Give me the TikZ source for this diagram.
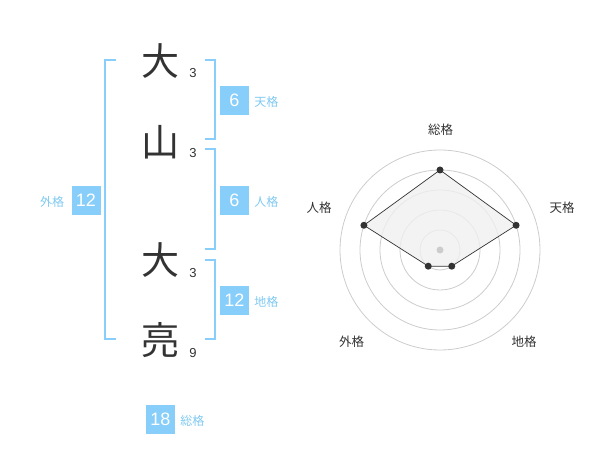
\documentclass[tikz,border=0pt]{standalone}
\usepackage{fontspec}
\setmainfont{Liberation Sans}
\newfontfamily\cjk{Noto Sans CJK JP}
\usetikzlibrary{positioning,calc}
\definecolor{kblue}{HTML}{87CEFA}
\definecolor{klight}{HTML}{7FC9F2}
\definecolor{kgray}{HTML}{333333}
\definecolor{ringgray}{HTML}{CCCCCC}
\definecolor{areagray}{HTML}{F0F0F0}
\tikzset{kanji/.style={inner sep=0pt,text=kgray,font=\cjk\fontsize{38}{38}\selectfont},
	 strokes/.style={inner sep=0pt,text=kgray,font=\fontsize{13}{13}\selectfont},
	 kakubox/.style={fill=kblue,text=white,inner sep=0pt,minimum size=29pt,font=\fontsize{18}{18}\selectfont},
	 kakulabel/.style={inner sep=0pt,text=klight,font=\cjk\fontsize{12}{12}\selectfont},
	 bracket/.style={draw=kblue,line width=2pt},
	 ring/.style={draw=ringgray,line width=0.8pt},
	 axislabel/.style={inner sep=0pt,text=kgray,font=\cjk\fontsize{12.5}{12.5}\selectfont},
	 vroot/.style={circle,fill=kgray,inner sep=0pt,minimum size=7pt},
	 node distance = 5pt
	 }
\begin{document}
\begin{tikzpicture}[x=1pt,y=1pt]% name chart
        \useasboundingbox (0,0) rectangle (600,-470);
        \node[kanji] (k1) at (160,-61) {大};
        \node[kanji] (k2) at (160,-142) {山};
        \node[kanji] (k3) at (160,-260) {大};
        \node[kanji] (k4) at (160,-340) {亮};
        \node[strokes] (s1) at (193,-73) {3};
        \node[strokes] (s2) at (193,-153) {3};
        \node[strokes] (s3) at (193,-273) {3};
        \node[strokes] (s4) at (193,-353) {9};
        \draw[bracket] (115.5,-60) -- (105,-60) -- (105,-339.5) -- (115.5,-339.5);
        \draw[bracket] (205,-60) -- (214.5,-60) -- (214.5,-139.5) -- (205,-139.5);
        \draw[bracket] (205,-149.5) -- (214.5,-149.5) -- (214.5,-249.5) -- (205,-249.5);
        \draw[bracket] (205,-260) -- (214.5,-260) -- (214.5,-339.5) -- (205,-339.5);
        \node[kakubox] (ten) at (234.5,-100.5) {6};
        \node[kakubox] (jin) at (234.5,-200.5) {6};
        \node[kakubox] (chi) at (234.5,-300.5) {12};
        \node[kakubox] (gai) at (86,-200.5) {12};
        \node[kakubox] (sou) at (160.5,-419) {18};
        \node[kakulabel] (lten) [base right=of ten] {天格};
        \node[kakulabel] (ljin) [base right=of jin] {人格};
        \node[kakulabel] (lchi) [base right=of chi] {地格};
        \node[kakulabel] (lgai) [base left=7pt of gai] {外格};
        \node[kakulabel] (lsou) [base right=of sou] {総格};
        % radar
        \coordinate (c) at (440,-250);
        \foreach \r in {20,40,60,80,100} \draw[ring] (c) circle (\r pt);
        \coordinate (vsou) at ($(c)+(90:80)$);
        \coordinate (vten) at ($(c)+(18:80)$);
        \coordinate (vchi) at ($(c)+(-54:20)$);
        \coordinate (vgai) at ($(c)+(234:20)$);
        \coordinate (vjin) at ($(c)+(162:80)$);
        \draw[kgray,fill=areagray,fill opacity=0.8,line width=0.7pt] (vsou) -- (vten) -- (vchi) -- (vgai) -- (vjin) -- cycle;
        \node[circle,fill=ringgray,inner sep=0pt,minimum size=7pt] (o) at (c) {};
        \foreach \v in {vsou,vten,vchi,vgai,vjin} \node[vroot] at (\v) {};
        \node[axislabel] (asou) at ($(c)+(0.7,120)$) {総格};
        \node[axislabel] (aten) at ($(c)+(122,42)$) {天格};
        \node[axislabel] (ajin) at ($(c)+(-121,42)$) {人格};
        \node[axislabel] (agai) at ($(c)+(-88.5,-91.5)$) {外格};
        \node[axislabel] (achi) at ($(c)+(84,-91.5)$) {地格};
\end{tikzpicture}
\end{document}
